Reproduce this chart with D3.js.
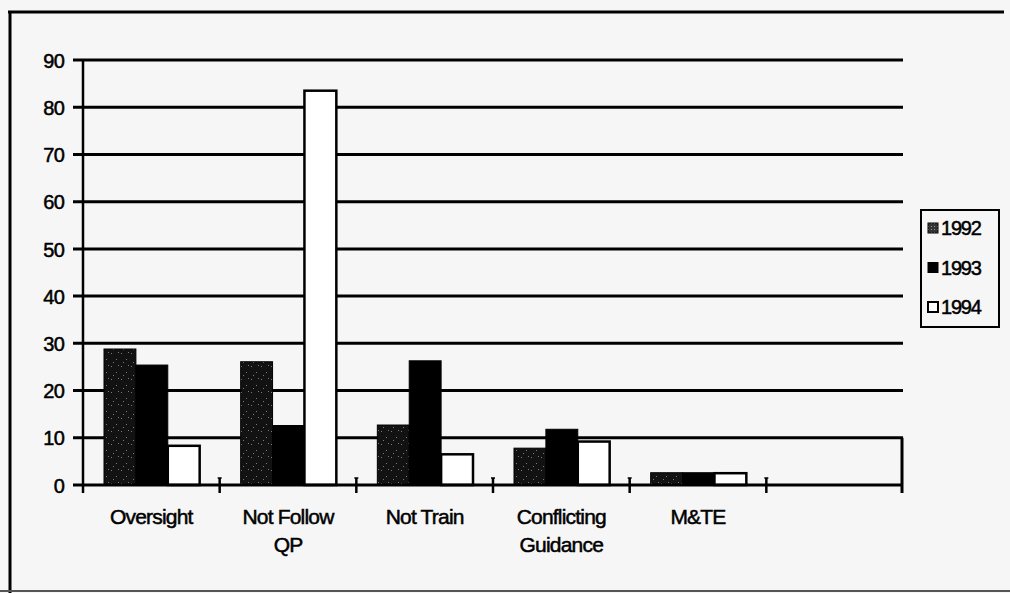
<!DOCTYPE html>
<html>
<head>
<meta charset="utf-8">
<script src="https://cdn.jsdelivr.net/npm/d3@7"></script>
<style>
  html, body { margin: 0; padding: 0; background: #f6f6f6; }
  svg { display: block; }
  text { font-family: "Liberation Sans", Arial, sans-serif; fill: #000; }
</style>
</head>
<body>
<svg id="chart" width="1010" height="593"></svg>
<script>
// Categories along the x axis (the last slot is left empty)
const categories = ["Oversight", "Not Follow QP", "Not Train", "Conflicting Guidance", "M&TE", ""];
const categoryLines = [["Oversight"], ["Not Follow", "QP"], ["Not Train"], ["Conflicting", "Guidance"], ["M&TE"], []];
const years = ["1992", "1993", "1994"];
// Values per year, aligned with categories
const values1992 = [28.8, 26.1, 12.7, 7.8, 2.6, null];
const values1993 = [25.4, 12.6, 26.3, 11.8, 2.6, null];
const values1994 = [8.3, 83.5, 6.5, 9.2, 2.5, null];
const yTicks = [0, 10, 20, 30, 40, 50, 60, 70, 80, 90];

const series = [values1992, values1993, values1994];

const svg = d3.select("#chart");

// Dark stipple used for the 1992 bars
const defs = svg.append("defs");
const pat = defs.append("pattern")
  .attr("id", "stipple").attr("patternUnits", "userSpaceOnUse")
  .attr("width", 10).attr("height", 13);
pat.append("rect").attr("width", 10).attr("height", 13).attr("fill", "#121212");
[[1, 2], [6, 8], [8, 1], [3, 11]].forEach(([cx, cy]) =>
  pat.append("rect").attr("x", cx).attr("y", cy).attr("width", 1).attr("height", 1).attr("fill", "#7a7a7a"));

const pat2 = defs.append("pattern")
  .attr("id", "stippleSmall").attr("patternUnits", "userSpaceOnUse")
  .attr("width", 3).attr("height", 3);
pat2.append("rect").attr("width", 3).attr("height", 3).attr("fill", "#333");
pat2.append("rect").attr("x", 1).attr("y", 1).attr("width", 1).attr("height", 1).attr("fill", "#999");

// Page frame
svg.append("line").attr("x1", 8).attr("x2", 1004).attr("y1", 12).attr("y2", 12)
  .attr("stroke", "#000").attr("stroke-width", 3);
svg.append("line").attr("x1", 10).attr("x2", 10).attr("y1", 11).attr("y2", 593)
  .attr("stroke", "#000").attr("stroke-width", 3);
svg.append("line").attr("x1", 0).attr("x2", 1010).attr("y1", 591).attr("y2", 591)
  .attr("stroke", "#555").attr("stroke-width", 2);

const plotLeft = 83, plotRight = 903, plotTop = 60, plotBottom = 485;

const y = d3.scaleLinear().domain([0, 90]).range([plotBottom, plotTop]);
const x = d3.scaleBand().domain(categories).range([plotLeft, plotRight]).paddingInner(0).paddingOuter(0);
const xs = d3.scaleBand().domain(years).range([21, x.bandwidth() - 20]);

const fills = ["url(#stipple)", "#000", "#fff"];

// Horizontal gridlines with short ticks to the left
const gy = svg.append("g");
gy.selectAll("line.grid").data(yTicks.filter(d => d > 0)).join("line")
  .attr("class", "grid")
  .attr("x1", plotLeft - 10).attr("x2", plotRight)
  .attr("y1", d => y(d)).attr("y2", d => y(d))
  .attr("stroke", "#000").attr("stroke-width", 3);

// Y axis tick labels
const yAxis = d3.axisLeft(y).tickValues(yTicks).tickSize(0).tickPadding(19);
const gAxis = svg.append("g").attr("transform", `translate(${plotLeft},0)`).call(yAxis);
gAxis.select(".domain").remove();
gAxis.attr("font-size", null).attr("font-family", null);
gAxis.selectAll("text")
  .style("font-size", "20px").style("font-family", "'Liberation Sans', Arial, sans-serif")
  .attr("fill", "#000")
  .attr("stroke", "#000").attr("stroke-width", 0.5).attr("letter-spacing", -0.8)
  .attr("dy", "0.36em");

// Bars
series.forEach((vals, si) => {
  svg.append("g").selectAll("rect")
    .data(categories.map((c, i) => ({ c, v: vals[i] })).filter(d => d.v != null))
    .join("rect")
    .attr("x", d => x(d.c) + xs(years[si]))
    .attr("width", xs.bandwidth())
    .attr("y", d => y(d.v))
    .attr("height", d => y(0) - y(d.v))
    .attr("fill", fills[si])
    .attr("stroke", "#000").attr("stroke-width", si === 2 ? 2.5 : 1);
});

// Axis lines
svg.append("line").attr("x1", plotLeft).attr("x2", plotLeft).attr("y1", plotTop).attr("y2", plotBottom + 8)
  .attr("stroke", "#000").attr("stroke-width", 2.5);
svg.append("line").attr("x1", plotLeft - 10).attr("x2", plotRight).attr("y1", y(0)).attr("y2", y(0))
  .attr("stroke", "#000").attr("stroke-width", 3);
svg.append("line").attr("x1", plotRight - 1).attr("x2", plotRight - 1).attr("y1", y(10)).attr("y2", plotBottom + 8)
  .attr("stroke", "#000").attr("stroke-width", 3);

// Category boundary ticks
const bounds = categories.slice(1).map(c => x(c));
const tk = svg.append("g").selectAll("g").data(bounds).join("g");
tk.append("line").attr("x1", d => d).attr("x2", d => d)
  .attr("y1", plotBottom - 7).attr("y2", plotBottom + 8)
  .attr("stroke", "#000").attr("stroke-width", 2.5);
tk.append("line").attr("x1", d => d - 2).attr("x2", d => d + 2)
  .attr("y1", plotBottom - 7).attr("y2", plotBottom - 7)
  .attr("stroke", "#000").attr("stroke-width", 1.5);

// Category labels
const lab = svg.append("g").selectAll("text").data(categories).join("text")
  .attr("x", d => x(d) + x.bandwidth() / 2)
  .attr("y", 524)
  .attr("text-anchor", "middle")
  .style("font-size", "21px")
  .attr("letter-spacing", -0.8)
  .attr("stroke", "#000").attr("stroke-width", 0.5);
lab.each(function (d, i) {
  d3.select(this).selectAll("tspan").data(categoryLines[i]).join("tspan")
    .attr("x", x(d) + x.bandwidth() / 2)
    .attr("dy", (t, j) => j === 0 ? 0 : 28)
    .text(t => t);
});

// Legend
const lg = svg.append("g");
lg.append("rect").attr("x", 921).attr("y", 210).attr("width", 78).attr("height", 117)
  .attr("fill", "none").attr("stroke", "#000").attr("stroke-width", 2);
const legendFills = ["url(#stippleSmall)", "#000", "#fff"];
years.forEach((yr, i) => {
  const cy = 228 + i * 39.5;
  lg.append("rect").attr("x", 928).attr("y", cy - 5).attr("width", 10).attr("height", 10)
    .attr("fill", legendFills[i]).attr("stroke", "#000").attr("stroke-width", i === 2 ? 2 : 1);
  lg.append("text").attr("x", 941).attr("y", cy).attr("dy", "0.36em")
    .style("font-size", "20px").attr("letter-spacing", -1.2)
    .attr("stroke", "#000").attr("stroke-width", 0.5)
    .text(yr);
});
</script>
</body>
</html>
